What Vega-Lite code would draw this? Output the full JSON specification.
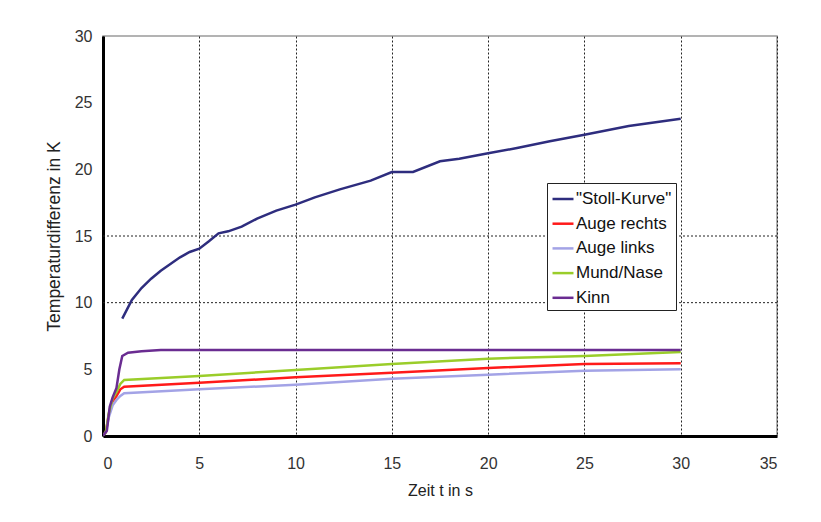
{
  "$schema": "https://vega.github.io/schema/vega-lite/v6.json",
  "autosize": "none",
  "width": 674,
  "height": 400,
  "padding": {"left": 103, "top": 36, "right": 44, "bottom": 86},
  "background": "white",
  "config": {
    "view": {"stroke": "#9a9a9a", "strokeWidth": 1.5},
    "font": "Liberation Sans"
  },
  "datasets": {
    "curves": [
      {"t": 1.0, "v": 8.8, "s": "\"Stoll-Kurve\""},
      {"t": 1.5, "v": 10.2, "s": "\"Stoll-Kurve\""},
      {"t": 2.0, "v": 11.1, "s": "\"Stoll-Kurve\""},
      {"t": 2.5, "v": 11.8, "s": "\"Stoll-Kurve\""},
      {"t": 3.0, "v": 12.4, "s": "\"Stoll-Kurve\""},
      {"t": 3.5, "v": 12.9, "s": "\"Stoll-Kurve\""},
      {"t": 4.0, "v": 13.4, "s": "\"Stoll-Kurve\""},
      {"t": 4.5, "v": 13.8, "s": "\"Stoll-Kurve\""},
      {"t": 5.0, "v": 14.05, "s": "\"Stoll-Kurve\""},
      {"t": 5.5, "v": 14.6, "s": "\"Stoll-Kurve\""},
      {"t": 6.0, "v": 15.2, "s": "\"Stoll-Kurve\""},
      {"t": 6.5, "v": 15.35, "s": "\"Stoll-Kurve\""},
      {"t": 7.2, "v": 15.7, "s": "\"Stoll-Kurve\""},
      {"t": 8.0, "v": 16.3, "s": "\"Stoll-Kurve\""},
      {"t": 9.0, "v": 16.9, "s": "\"Stoll-Kurve\""},
      {"t": 10.0, "v": 17.35, "s": "\"Stoll-Kurve\""},
      {"t": 11.0, "v": 17.9, "s": "\"Stoll-Kurve\""},
      {"t": 12.3, "v": 18.5, "s": "\"Stoll-Kurve\""},
      {"t": 13.9, "v": 19.15, "s": "\"Stoll-Kurve\""},
      {"t": 15.0, "v": 19.8, "s": "\"Stoll-Kurve\""},
      {"t": 16.1, "v": 19.8, "s": "\"Stoll-Kurve\""},
      {"t": 17.5, "v": 20.6, "s": "\"Stoll-Kurve\""},
      {"t": 18.5, "v": 20.8, "s": "\"Stoll-Kurve\""},
      {"t": 20.0, "v": 21.2, "s": "\"Stoll-Kurve\""},
      {"t": 21.5, "v": 21.6, "s": "\"Stoll-Kurve\""},
      {"t": 23.2, "v": 22.1, "s": "\"Stoll-Kurve\""},
      {"t": 25.0, "v": 22.6, "s": "\"Stoll-Kurve\""},
      {"t": 27.3, "v": 23.25, "s": "\"Stoll-Kurve\""},
      {"t": 30.0, "v": 23.8, "s": "\"Stoll-Kurve\""},

      {"t": 0.0, "v": 0.0, "s": "Auge rechts"},
      {"t": 0.15, "v": 0.3, "s": "Auge rechts"},
      {"t": 0.3, "v": 1.6, "s": "Auge rechts"},
      {"t": 0.5, "v": 2.6, "s": "Auge rechts"},
      {"t": 0.7, "v": 3.0, "s": "Auge rechts"},
      {"t": 0.9, "v": 3.5, "s": "Auge rechts"},
      {"t": 1.1, "v": 3.7, "s": "Auge rechts"},
      {"t": 5.0, "v": 4.0, "s": "Auge rechts"},
      {"t": 10.0, "v": 4.4, "s": "Auge rechts"},
      {"t": 15.0, "v": 4.75, "s": "Auge rechts"},
      {"t": 20.0, "v": 5.1, "s": "Auge rechts"},
      {"t": 25.0, "v": 5.4, "s": "Auge rechts"},
      {"t": 30.0, "v": 5.45, "s": "Auge rechts"},

      {"t": 0.0, "v": 0.0, "s": "Auge links"},
      {"t": 0.15, "v": 0.3, "s": "Auge links"},
      {"t": 0.3, "v": 1.4, "s": "Auge links"},
      {"t": 0.5, "v": 2.3, "s": "Auge links"},
      {"t": 0.7, "v": 2.7, "s": "Auge links"},
      {"t": 0.9, "v": 3.0, "s": "Auge links"},
      {"t": 1.1, "v": 3.2, "s": "Auge links"},
      {"t": 5.0, "v": 3.5, "s": "Auge links"},
      {"t": 10.0, "v": 3.85, "s": "Auge links"},
      {"t": 15.0, "v": 4.3, "s": "Auge links"},
      {"t": 20.0, "v": 4.6, "s": "Auge links"},
      {"t": 25.0, "v": 4.9, "s": "Auge links"},
      {"t": 30.0, "v": 5.0, "s": "Auge links"},

      {"t": 0.0, "v": 0.0, "s": "Mund/Nase"},
      {"t": 0.15, "v": 0.3, "s": "Mund/Nase"},
      {"t": 0.3, "v": 1.7, "s": "Mund/Nase"},
      {"t": 0.5, "v": 2.8, "s": "Mund/Nase"},
      {"t": 0.7, "v": 3.3, "s": "Mund/Nase"},
      {"t": 0.9, "v": 3.9, "s": "Mund/Nase"},
      {"t": 1.1, "v": 4.2, "s": "Mund/Nase"},
      {"t": 5.0, "v": 4.5, "s": "Mund/Nase"},
      {"t": 10.0, "v": 4.95, "s": "Mund/Nase"},
      {"t": 15.0, "v": 5.4, "s": "Mund/Nase"},
      {"t": 20.0, "v": 5.8, "s": "Mund/Nase"},
      {"t": 25.0, "v": 6.0, "s": "Mund/Nase"},
      {"t": 30.0, "v": 6.3, "s": "Mund/Nase"},

      {"t": 0.0, "v": 0.0, "s": "Kinn"},
      {"t": 0.2, "v": 0.4, "s": "Kinn"},
      {"t": 0.35, "v": 2.2, "s": "Kinn"},
      {"t": 0.5, "v": 2.9, "s": "Kinn"},
      {"t": 0.7, "v": 3.6, "s": "Kinn"},
      {"t": 0.85, "v": 5.0, "s": "Kinn"},
      {"t": 1.0, "v": 6.0, "s": "Kinn"},
      {"t": 1.3, "v": 6.25, "s": "Kinn"},
      {"t": 2.0, "v": 6.35, "s": "Kinn"},
      {"t": 3.0, "v": 6.45, "s": "Kinn"},
      {"t": 30.0, "v": 6.45, "s": "Kinn"}
    ],
    "hgrid": [{"y": 10}, {"y": 15}]
  },
  "layer": [
    {
      "data": {"name": "hgrid"},
      "mark": {"type": "rule", "color": "#222", "strokeDash": [2, 2], "strokeWidth": 1},
      "encoding": {
        "y": {"field": "y", "type": "quantitative", "scale": {"domain": [0, 30]}}
      }
    },
    {
      "data": {"name": "curves"},
      "mark": {"type": "line", "strokeWidth": 2.5, "clip": true},
      "encoding": {
        "x": {
          "field": "t", "type": "quantitative",
          "scale": {"domain": [0, 35], "nice": false, "zero": true},
          "axis": {
            "title": "Zeit t in s",
            "values": [0, 5, 10, 15, 20, 25, 30, 35],
            "ticks": false,
            "labelPadding": 19,
            "labelFontSize": 16,
            "labelColor": "#333",
            "labelFont": "Liberation Sans",
            "titleFont": "Liberation Sans",
            "titleFontSize": 16,
            "titleFontWeight": "normal",
            "titleColor": "#222",
            "titlePadding": 11,
            "domainColor": "#000",
            "domainWidth": 3,
            "grid": true,
            "gridColor": "#222",
            "gridDash": [2, 2],
            "gridWidth": 1,
            "gridOpacity": 1
          }
        },
        "y": {
          "field": "v", "type": "quantitative",
          "scale": {"domain": [0, 30], "nice": false},
          "axis": {
            "title": "Temperaturdifferenz in K",
            "values": [0, 5, 10, 15, 20, 25, 30],
            "ticks": false,
            "grid": false,
            "labelPadding": 11,
            "labelFontSize": 16,
            "labelColor": "#333",
            "labelFont": "Liberation Sans",
            "titleFont": "Liberation Sans",
            "titleFontSize": 17.5,
            "titleFontWeight": "normal",
            "titleColor": "#222",
            "titlePadding": 11,
            "domainColor": "#000",
            "domainWidth": 3
          }
        },
        "color": {
          "field": "s", "type": "nominal",
          "scale": {
            "domain": ["\"Stoll-Kurve\"", "Auge rechts", "Auge links", "Mund/Nase", "Kinn"],
            "range": ["#2e2d7e", "#ff1a1a", "#a3a3e6", "#9acd2a", "#6a2c91"]
          },
          "legend": {
            "title": null,
            "orient": "none",
            "legendX": 444,
            "legendY": 147,
            "symbolType": "stroke",
            "symbolSize": 440,
            "symbolStrokeWidth": 2.5,
            "labelFont": "Liberation Sans",
            "labelFontSize": 17,
            "labelColor": "#111",
            "rowPadding": 4.7,
            "padding": 4,
            "fillColor": "white",
            "strokeColor": "#222",
            "labelOffset": 1
          }
        }
      }
    }
  ]
}
